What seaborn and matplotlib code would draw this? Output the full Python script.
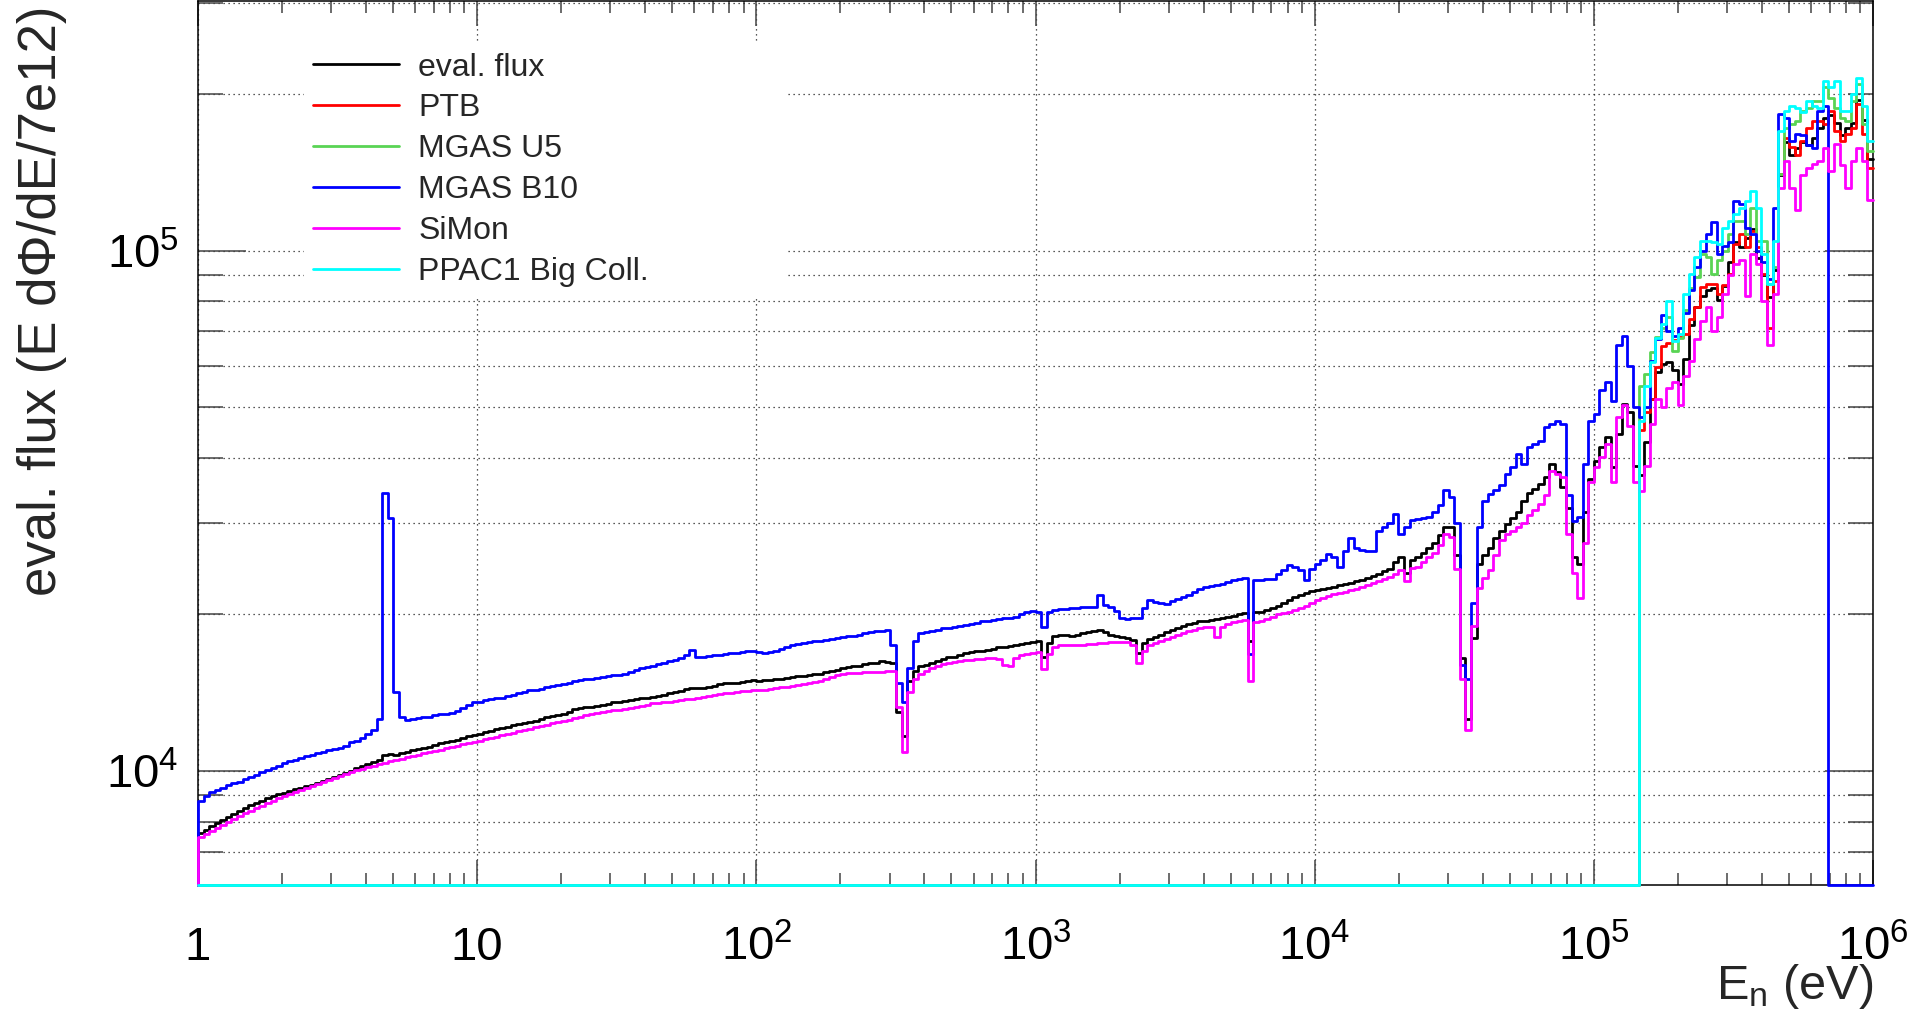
import numpy as np
import matplotlib
matplotlib.use('Agg')
import matplotlib.pyplot as plt
from matplotlib.ticker import NullFormatter
import seaborn as sns

sns.set_theme(style='white')
plt.rcParams['font.family'] = ['Liberation Sans', 'DejaVu Sans']
plt.rcParams['mathtext.default'] = 'regular'


######################################################
# Energy binning: 50 log bins per decade, 1 eV to 1 MeV
edges = 10 ** (np.arange(301) / 50)

# Bin contents (E dPhi/dE / 7e12)
eval_flux = [
    7600, 7720, 7830, 7950, 8060, 8170, 8280, 8390, 8500, 8600,
    8700, 8780, 8860, 8950, 9020, 9080, 9150, 9230, 9300, 9370,
    9420, 9500, 9580, 9650, 9730, 9820, 9900, 10000, 10120, 10220,
    10300, 10400, 10500, 10750, 10800, 10750, 10850, 10900, 10980, 11030,
    11080, 11150, 11230, 11300, 11380, 11420, 11500, 11600, 11680, 11750,
    11800, 11880, 11960, 12050, 12120, 12180, 12250, 12320, 12380, 12450,
    12500, 12600, 12680, 12750, 12800, 12900, 13000, 13150, 13250, 13280,
    13300, 13350, 13400, 13480, 13550, 13580, 13620, 13700, 13750, 13800,
    13830, 13880, 13920, 14000, 14150, 14200, 14280, 14380, 14420, 14450,
    14450, 14500, 14600, 14700, 14750, 14750, 14800, 14850, 14900, 14950,
    14900, 14950, 14950, 15000, 15050, 15100, 15150, 15200, 15250, 15300,
    15350, 15400, 15500, 15580, 15650, 15750, 15850, 15900, 15950, 16050,
    16100, 16150, 16250, 16200, 16100, 13000, 11700, 14900, 15600, 15900,
    16000, 16150, 16300, 16450, 16550, 16600, 16750, 16850, 16950, 17050,
    17050, 17100, 17200, 17300, 17350, 17400, 17500, 17550, 17600, 17700,
    17800, 16600, 17600, 18200, 18250, 18250, 18200, 18300, 18400, 18500,
    18600, 18650, 18500, 18300, 18150, 18100, 18000, 17900, 16900, 17600,
    17950, 18100, 18300, 18500, 18650, 18800, 19000, 19200, 19300, 19400,
    19450, 19500, 19600, 19700, 19800, 19900, 20000, 20100, 17800, 20200,
    20250, 20400, 20600, 20800, 21000, 21300, 21600, 21800, 22000, 22200,
    22300, 22400, 22500, 22600, 22750, 22850, 23000, 23150, 23300, 23500,
    23700, 23950, 24200, 24450, 25200, 25800, 24000, 25400, 25800, 26300,
    26900, 27400, 28400, 29400, 29500, 26000, 16500, 12600, 18000, 25000,
    26000, 26800, 28000, 28900, 29800, 30600, 31500, 33000, 34200, 34800,
    35600, 36800, 38900, 37600, 35100, 32000, 25800, 25000, 31500, 36500,
    39500, 41900, 43800, 38400, 44500, 50800, 49000, 38500, 37000, 43000,
    52000, 58500, 60500, 61000, 59000, 55500, 62000, 72000, 77900, 82000,
    84000, 85000, 80500, 85500, 95000, 104000, 101500, 106000, 110000, 97000,
    90000, 81500, 92000, 140000, 162000, 153000, 157500, 162000, 160000, 165000,
    172000, 180000, 182000, 176000, 167000, 172000, 176000, 195000, 178000, 150000,
]

mgas_b10 = [
    8750, 8950, 9100, 9200, 9280, 9400, 9480, 9550, 9650, 9750,
    9850, 9950, 10050, 10150, 10250, 10350, 10450, 10500, 10600, 10700,
    10750, 10820, 10900, 11000, 11050, 11100, 11200, 11350, 11450, 11600,
    11800, 12000, 12600, 34200, 30600, 14200, 12700, 12550, 12600, 12650,
    12720, 12700, 12800, 12900, 12850, 12950, 13050, 13200, 13400, 13550,
    13600, 13700, 13750, 13800, 13850, 13950, 14000, 14100, 14200, 14300,
    14350, 14400, 14500, 14550, 14650, 14700, 14800, 14900, 14950, 15000,
    15050, 15100, 15150, 15200, 15280, 15300, 15350, 15500, 15650, 15800,
    15850, 15950, 16050, 16150, 16250, 16350, 16500, 16700, 17100, 16550,
    16600, 16650, 16700, 16750, 16800, 16850, 16900, 16950, 17000, 17000,
    16950, 16900, 16950, 17000, 17150, 17300, 17450, 17550, 17650, 17720,
    17750, 17800, 17900, 17950, 18000, 18100, 18150, 18200, 18300, 18400,
    18500, 18550, 18600, 18650, 17500, 14800, 13600, 15800, 17800, 18400,
    18500, 18600, 18700, 18800, 18850, 18930, 19000, 19100, 19200, 19300,
    19400, 19450, 19500, 19600, 19650, 19700, 19800, 20000, 20200, 20300,
    20250, 18930, 20200, 20400, 20450, 20500, 20550, 20600, 20650, 20650,
    20650, 21800, 20900, 20700, 20300, 19700, 19600, 19700, 19650, 20600,
    21300, 21100, 21000, 20980, 21200, 21400, 21620, 21800, 22100, 22400,
    22590, 22700, 22800, 22930, 23100, 23300, 23440, 23500, 16820, 23270,
    23300, 23350, 23440, 23950, 24300, 24920, 24670, 24300, 23260, 24500,
    25030, 25400, 26170, 25800, 24670, 26500, 28000, 26890, 26600, 26500,
    26500, 29000, 29500, 30000, 31230, 28590, 29500, 30330, 30500, 30600,
    30770, 31500, 32500, 34620, 33620, 30000, 16000, 15000, 21000, 29440,
    33000, 34120, 34620, 35500, 37260, 38380, 40700, 38950, 41930, 42500,
    43180, 45800, 46500, 47180, 46480, 34000, 30300, 30800, 39000, 47000,
    48600, 54000, 56000, 51500, 66000, 68500, 60000, 50000, 48000, 50000,
    61400, 67800, 75400, 70000, 68500, 71000, 76000, 84000, 93000, 100000,
    107600, 113500, 98500, 102000, 104000, 124700, 122800, 110800, 107600, 100000,
    95000, 88400, 121000, 183000, 180300, 162600, 167400, 167000, 160000, 157800,
    186000, 190000, 0, 0, 0, 0, 0, 0, 0, 0,
]

simon = [
    7480, 7580, 7680, 7790, 7880, 7990, 8090, 8200, 8300, 8400,
    8490, 8580, 8670, 8770, 8860, 8950, 9040, 9120, 9210, 9300,
    9380, 9460, 9540, 9620, 9700, 9780, 9860, 9950, 10030, 10100,
    10170, 10240, 10310, 10380, 10440, 10500, 10570, 10640, 10700, 10760,
    10820, 10880, 10940, 11000, 11060, 11120, 11180, 11250, 11310, 11380,
    11440, 11510, 11580, 11650, 11720, 11790, 11860, 11930, 12000, 12070,
    12140, 12210, 12280, 12350, 12420, 12490, 12560, 12640, 12720, 12800,
    12860, 12920, 12980, 13040, 13100, 13130, 13180, 13240, 13300, 13360,
    13420, 13490, 13520, 13560, 13600, 13650, 13690, 13730, 13780, 13850,
    13900, 13950, 14000, 14050, 14100, 14150, 14200, 14240, 14280, 14310,
    14320, 14350, 14400, 14420, 14480, 14520, 14580, 14640, 14700, 14760,
    14820, 14900, 15000, 15150, 15300, 15380, 15420, 15450, 15460, 15480,
    15490, 15500, 15520, 15560, 15600, 13300, 10900, 14200, 15000, 15400,
    15600, 15750, 15900, 16050, 16150, 16220, 16280, 16330, 16380, 16420,
    16450, 16480, 16500, 16450, 16000, 15950, 16500, 16700, 16800, 16900,
    16950, 15700, 16800, 17350, 17450, 17460, 17450, 17460, 17480, 17520,
    17560, 17600, 17650, 17700, 17720, 17740, 17720, 17500, 16100, 17000,
    17450, 17600, 17800, 17950, 18100, 18250, 18400, 18550, 18700, 18850,
    18930, 18900, 18100, 18900, 19200, 19350, 19450, 19500, 14900, 19350,
    19450, 19600, 19800, 20000, 20100, 20250, 20400, 20600, 20800, 21000,
    21300, 21500, 21700, 21900, 22000, 22100, 22250, 22400, 22600, 22800,
    23000, 23200, 23450, 23600, 23900, 24300, 23200, 24600, 24700, 25200,
    25800, 26200, 27200, 28600, 28200, 24500, 15000, 12000, 19000, 22500,
    23500, 24300, 26000, 27800, 28500, 29000, 29400, 30000, 31000, 31800,
    32600, 34000, 37800, 37300, 36700, 28500, 24000, 21500, 27500, 36000,
    38400, 40100, 42500, 36000, 48000, 50500, 46000, 36000, 34600, 38500,
    46500, 52000, 50000, 54500, 56000, 50600, 57500, 61500, 67800, 73400,
    78000, 70000, 74500, 82600, 90000, 94400, 95800, 82000, 98500, 94400,
    80200, 66000, 82600, 132000, 148800, 132300, 120000, 140000, 144500, 146700,
    148800, 157900, 142400, 160300, 146000, 132300, 148800, 157900, 148800, 125000,
]

# These three only have content above ~145 keV (last 42 bins)
ptb = [
    45300, 48900, 52000, 59700, 65600, 66600, 67500, 68200, 69200, 74000,
    77900, 85100, 86300, 86300, 82600, 86000, 90200, 103000, 107600, 101500,
    109200, 101500, 90200, 71200, 87600, 140200, 165000, 158000, 153000, 162600,
    172500, 177800, 177800, 175000, 185600, 170000, 162600, 167400, 172500, 191200,
    167400, 144500,
]
mgas_u5 = [
    55000, 58000, 64000, 68200, 71000, 74500, 64300, 68000, 76800, 85000,
    88900, 98500, 97100, 90200, 96000, 100000, 107600, 114100, 114100, 107600,
    121000, 104500, 104500, 86300, 92900, 140200, 172500, 175000, 177800, 185600,
    188300, 194100, 194100, 206000, 197000, 188300, 180000, 177800, 194100, 208900,
    175000, 155600,
]
ppac1 = [
    47000, 55000, 61000, 68000, 72300, 80200, 67100, 69200, 82600, 90200,
    97100, 104500, 104500, 104000, 103000, 110800, 114000, 117600, 121000, 124700,
    130300, 121000, 98500, 86300, 104500, 170000, 185600, 190000, 188000, 185000,
    194000, 190000, 188000, 212000, 206000, 212000, 185600, 186000, 200000, 215000,
    190000, 162500,
]

names = ['eval. flux', 'PTB', 'MGAS U5', 'MGAS B10', 'SiMon', 'PPAC1 Big Coll.']
colors = ['black', '#ff0000', '#59d454', '#0000ff', '#ff00ff', '#00ffff']

x_major = [1, 10, 1e2, 1e3, 1e4, 1e5, 1e6]
x_labels = ['1', '10', '$10^{2}$', '$10^{3}$', '$10^{4}$', '$10^{5}$', '$10^{6}$']
y_major = [1e4, 1e5]
y_labels = ['$10^{4}$', '$10^{5}$']

y_lo, y_hi = 6040, 3.02e5
n_bins = len(edges) - 1


def pad_front(vals):
    # empty bins below the detector threshold
    return np.concatenate([np.zeros(n_bins - len(vals)), vals])


series = [eval_flux, pad_front(ptb), pad_front(mgas_u5), mgas_b10, simon, pad_front(ppac1)]

fig = plt.figure(figsize=(19.13, 10.18), dpi=100)
ax = fig.add_axes([0.1035, 0.1306, 0.8756, 0.8684])

for vals, col, name in zip(series, colors, names):
    # empty bins drawn on the bottom of the frame, like ROOT does
    v = np.clip(np.asarray(vals, dtype=float), y_lo, None)
    xs = np.concatenate([[edges[0]], edges])
    ys = np.concatenate([[y_lo], v, [v[-1]]])
    sns.lineplot(x=xs, y=ys, drawstyle='steps-post', color=col, lw=2.0,
                 estimator=None, sort=False, errorbar=None, legend=False,
                 clip_on=False, zorder=3, ax=ax)

ax.set_xscale('log')
ax.set_yscale('log')
ax.set_xlim(1, 1e6)
ax.set_ylim(y_lo, y_hi)

ax.set_xticks(x_major, x_labels)
ax.set_xticks([m * 10 ** d for d in range(6) for m in range(2, 10)], minor=True)
ax.xaxis.set_minor_formatter(NullFormatter())
ax.set_yticks(y_major, y_labels)
ax.set_yticks([m * 10 ** d for d in (3, 4, 5) for m in range(2, 10)
               if y_lo < m * 10 ** d < y_hi], minor=True)
ax.yaxis.set_minor_formatter(NullFormatter())

ax.tick_params(axis='both', which='both', direction='in', top=True, right=True,
               bottom=True, left=True, color='#444444', width=1.1,
               labelcolor='black')
ax.tick_params(axis='x', which='major', length=18, pad=54, labelsize=34)
ax.tick_params(axis='x', which='minor', length=8.6)
ax.tick_params(axis='y', which='major', length=34.6, pad=14, labelsize=34)
ax.tick_params(axis='y', which='minor', length=18)
plt.setp(ax.get_xticklabels(), va='baseline')

ax.grid(True, axis='x', which='major', color='#222222', lw=0.9, ls=(0, (1, 3)))
ax.grid(True, axis='y', which='both', color='#222222', lw=0.9, ls=(0, (1, 3)))
ax.set_axisbelow(True)

for sp in ax.spines.values():
    sp.set_color('black')
    sp.set_linewidth(1.1)

ax.set_ylabel('eval. flux (E dΦ/dE/7e12)', fontsize=38, loc='top')
ax.yaxis.set_label_coords(-0.078, 0.995)
ax.set_xlabel('$E_{n}$ (eV)', fontsize=35, loc='right')
ax.xaxis.set_label_coords(1.0, -0.087)

ax.legend(handles=ax.get_lines(), labels=names, loc='upper left',
          bbox_to_anchor=(0.0631, 0.6, 0.2885, 0.3525), mode='expand',
          borderaxespad=0, borderpad=0.3, fontsize=23, handlelength=2.67,
          handletextpad=0.61, labelspacing=0.34, frameon=True, fancybox=False,
          edgecolor='none', facecolor='white', framealpha=1)

fig.savefig('out.png', dpi=100)
